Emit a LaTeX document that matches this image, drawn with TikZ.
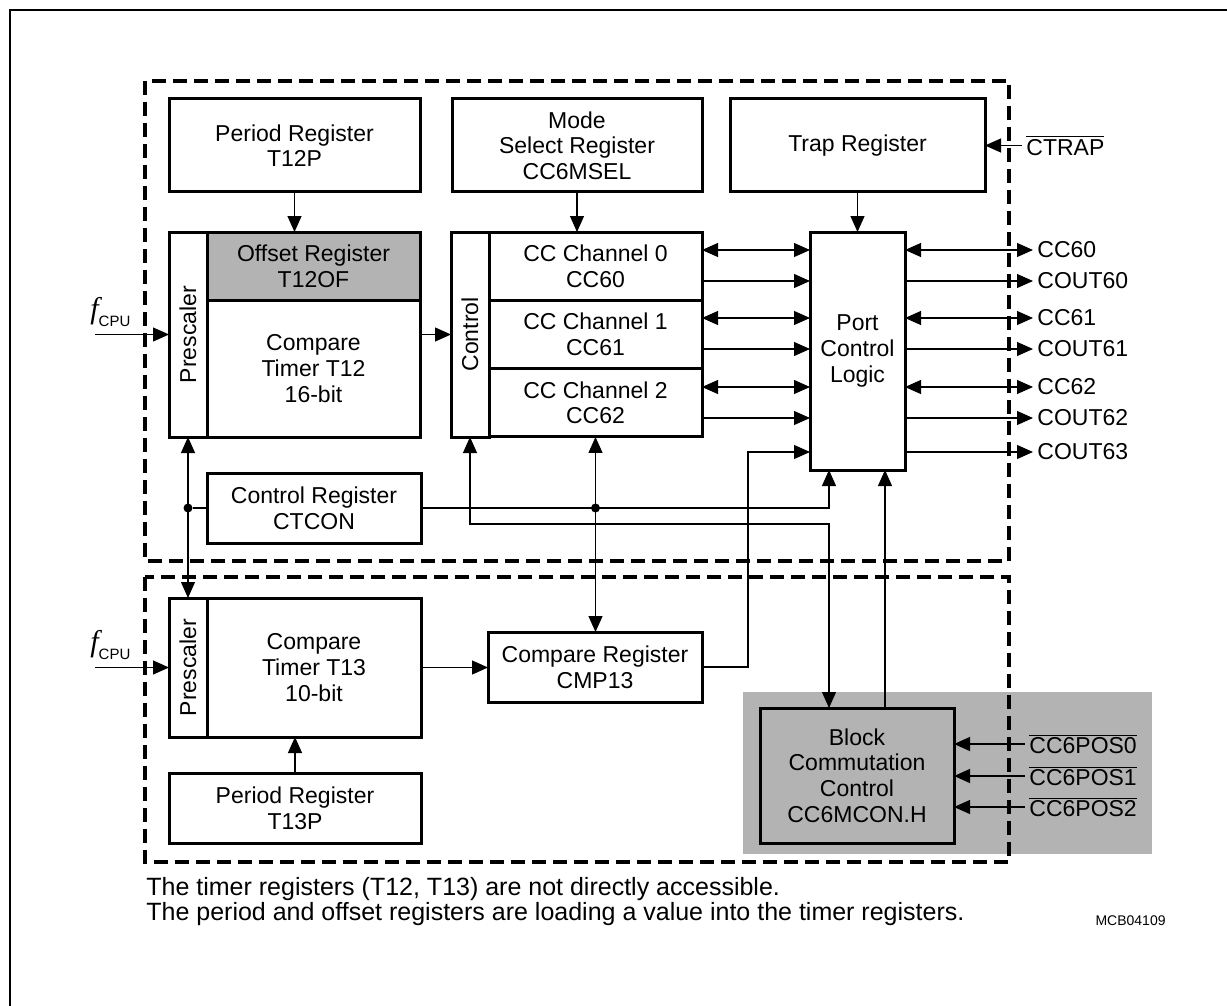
\documentclass[tikz,border=0pt]{standalone}
\usepackage{fontspec}
\setmainfont{Liberation Sans}
\newfontfamily\fserif{Liberation Serif}
\usepackage{tikz}
\usetikzlibrary{arrows.meta, positioning, calc}

\definecolor{regshade}{RGB}{179,179,179}
\newcommand{\fcpu}{{\fserif\itshape\fontsize{15}{15}\selectfont f}\raisebox{-4pt}{\fontsize{7.5}{8}\selectfont CPU}}
\newcommand{\lowact}[1]{$\overline{\mbox{#1}}$}

\tikzset{
  reg/.style={draw, line width=1.5pt, outer sep=0pt, inner sep=0pt, align=center,
    font=\fontsize{11.5}{12.8}\selectfont},
  txt/.style={inner sep=0pt, font=\fontsize{11.5}{12.8}\selectfont},
  timerunit/.style={line width=2pt, dash pattern=on 7pt off 3.5pt},
  conn/.style={line width=0.55pt},
  joint/.style={circle, fill, inner sep=0pt, minimum size=4.5pt},
  portpin/.style={anchor=west, inner sep=2pt, font=\fontsize{11.5}{12.8}\selectfont},
  fclk/.style={anchor=base west, inner sep=0pt},
  note/.style={anchor=base west, inner sep=0pt, font=\fontsize{12.5}{13}\selectfont}
}

\begin{document}
\begin{tikzpicture}[x=0.5pt, y=-0.5pt, >={Triangle[length=8pt,width=7pt]}]
\useasboundingbox (0,0) rectangle (1227,1006);
\draw[line width=1pt] (10,1006) -- (10,10) -- (1227,10);

% shading behind block commutation, then the two timer units
\fill[regshade] (743,692) rectangle (1152,854);
\draw[timerunit] (145,81) rectangle (1009,561);
\draw[timerunit] (145,577) rectangle (1009,862);

% top row registers
\node (T12P) [reg, minimum width=125.5pt, minimum height=46.5pt] at (294.5,145.5) {Period Register\\T12P};
\node (MSEL) [reg, minimum width=125pt, minimum height=46.5pt] at (577,145.5) {Mode\\Select Register\\CC6MSEL};
\node (TRAP) [reg, minimum width=127.5pt, minimum height=46.5pt] at (857.5,145.5) {Trap Register};
\node (CTRAP) [portpin] at (1022,145.5) {\lowact{CTRAP}};

% timer T12
\node (PRE12) [reg, minimum width=19pt, minimum height=102.5pt] at (188,334.5) {};
\node (PRE12t) [txt, rotate=90] at (PRE12) {Prescaler};
\node (OFF12) [reg, fill=regshade, minimum width=106.5pt, minimum height=34pt] at (313.5,266) {Offset Register\\T12OF};
\node (TIM12) [reg, minimum width=106.5pt, minimum height=68.5pt] at (313.5,368.5) {Compare\\Timer T12\\16-bit};
\node (F12) [fclk] at (90,318) {\fcpu};
\coordinate (IN12) at (95,334.5);

% capture/compare channels
\node (CTL) [reg, minimum width=19pt, minimum height=102.5pt] at (470,334.5) {};
\node (CTLt) [txt, rotate=90] at (CTL) {Control};
\node (CH0) [reg, minimum width=106.5pt, minimum height=34.17pt] at (595.5,266.2) {CC Channel 0\\CC60};
\node (CH1) [reg, minimum width=106.5pt, minimum height=34.17pt] at (595.5,334.5) {CC Channel 1\\CC61};
\node (CH2) [reg, minimum width=106.5pt, minimum height=34.17pt] at (595.5,402.8) {CC Channel 2\\CC62};
\node (PORT) [reg, minimum width=47.5pt, minimum height=119pt] at (857.5,351) {Port\\Control\\Logic};
\node (CTCON) [reg, minimum width=107pt, minimum height=35pt] at (314,508) {Control Register\\CTCON};

% port pins
\node (CC60) [portpin] at (1033,250) {CC60};
\node (COUT60) [portpin] at (1033,281) {COUT60};
\node (CC61) [portpin] at (1033,318) {CC61};
\node (COUT61) [portpin] at (1033,349) {COUT61};
\node (CC62) [portpin] at (1033,387) {CC62};
\node (COUT62) [portpin] at (1033,418) {COUT62};
\node (COUT63) [portpin] at (1033,452) {COUT63};

% timer T13
\node (PRE13) [reg, minimum width=19pt, minimum height=69.5pt] at (188,667.5) {};
\node (PRE13t) [txt, rotate=90] at (PRE13) {Prescaler};
\node (TIM13) [reg, minimum width=107pt, minimum height=69.5pt] at (314,667.5) {Compare\\Timer T13\\10-bit};
\node (CMP13) [reg, minimum width=107pt, minimum height=35pt] at (595,667) {Compare Register\\CMP13};
\node (T13P) [reg, minimum width=126pt, minimum height=35pt] at (295,808) {Period Register\\T13P};
\node (F13) [fclk] at (90,651) {\fcpu};
\coordinate (IN13) at (95,667.5);

% block commutation
\node (BCC) [reg, fill=regshade, minimum width=97pt, minimum height=67.5pt] at (857,775.5) {Block\\Commutation\\Control\\CC6MCON.H};
\node (POS0) [portpin] at (1025,744) {\lowact{CC6POS0}};
\node (POS1) [portpin] at (1025,776) {\lowact{CC6POS1}};
\node (POS2) [portpin] at (1025,807) {\lowact{CC6POS2}};

% connections
\draw[conn, ->] (T12P.south) -- (T12P.south |- OFF12.north);
\draw[conn, ->] (MSEL.south) -- (MSEL.south |- CH0.north);
\draw[conn, ->] (TRAP.south) -- (PORT.north);
\draw[conn, ->] (CTRAP.west) -- (CTRAP.west -| TRAP.east);
\draw[conn, ->] (IN12) -- (PRE12.west);
\draw[conn, ->] (CTL.west -| TIM12.east) -- (CTL.west);

\foreach \p/\c in {CC60/CH0, CC61/CH1, CC62/CH2} {
  \draw[conn, <->] (\p.west -| \c.east) -- (\p.west -| PORT.west);
  \draw[conn, <->] (\p.west -| PORT.east) -- (\p.west);
}
\foreach \p/\c in {COUT60/CH0, COUT61/CH1, COUT62/CH2} {
  \draw[conn, ->] (\p.west -| \c.east) -- (\p.west -| PORT.west);
  \draw[conn, ->] (\p.west -| PORT.east) -- (\p.west);
}
\draw[conn, ->] (COUT63.west -| PORT.east) -- (COUT63.west);
\draw[conn, ->] (CMP13.east) -- ++(46,0) |- (COUT63.west -| PORT.west);

\coordinate (PJ) at ($(PORT.south)+(-28.5,0)$);
\coordinate (BJ) at ($(BCC.north)+(-28,0)$);
\coordinate (BO) at ($(BCC.north)+(28,0)$);
\draw[conn, <->] (PRE12.south) -- (PRE13.north);
\node (J1) [joint] at (PRE12.south |- CTCON.west) {};
\draw[conn] (CTCON.west) -- (J1);
\draw[conn, ->] (CTCON.east) -| (PJ);
\node (J2) [joint] at (CH2.south |- CTCON.east) {};
\draw[conn, <->] (CH2.south) -- (CH2.south |- CMP13.north);
\draw[conn, <->] (CTL.south) -- ++(0,87) -| (BJ);
\draw[conn, ->] (BO) -- (BO |- PORT.south);

\draw[conn, ->] (IN13) -- (PRE13.west);
\draw[conn, ->] (TIM13.east) -- (TIM13.east -| CMP13.west);
\draw[conn, ->] (T13P.north) -- (T13P.north |- TIM13.south);
\foreach \p in {POS0, POS1, POS2}
  \draw[conn, ->] (\p.west) -- (\p.west -| BCC.east);

% notes
\node (NOTE1) [note] at (146,895) {The timer registers (T12, T13) are not directly accessible.};
\node (NOTE2) [note] at (146,920) {The period and offset registers are loading a value into the timer registers.};
\node (MCB) [anchor=base east, inner sep=0pt, font=\fontsize{7}{8}\selectfont] at (1166,925) {MCB04109};
\end{tikzpicture}
\end{document}
